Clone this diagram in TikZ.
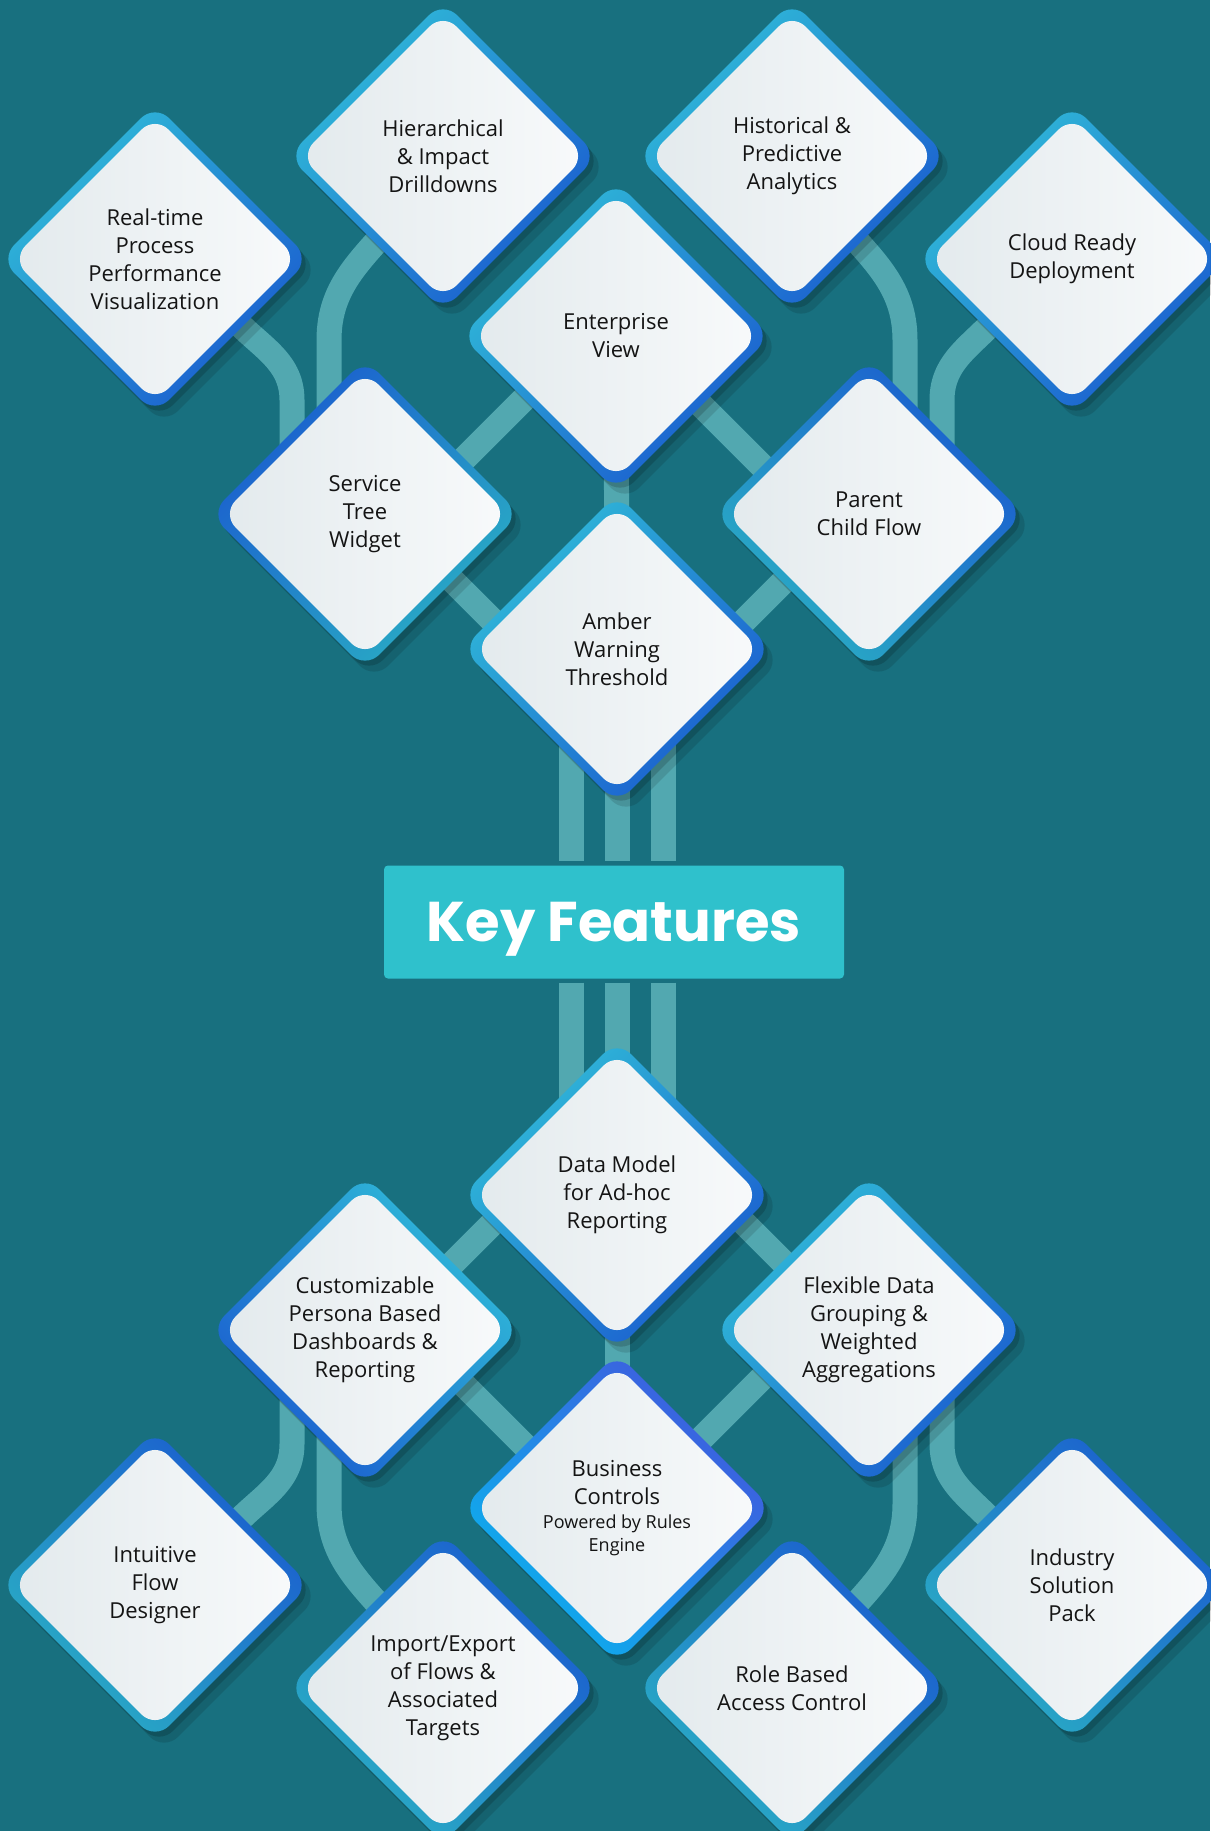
\documentclass[tikz,border=0pt]{standalone}
\usepackage{fontspec}
\setmainfont{Open Sans}
\newfontfamily\titlefont{Poppins}
\usetikzlibrary{shapes.geometric,shadows}
\pgfdeclarelayer{bg}
\pgfdeclarelayer{links}
\pgfsetlayers{bg,links,main}
\definecolor{bgteal}{HTML}{18707F}
\definecolor{linkteal}{HTML}{52A8B0}
\definecolor{boxcyan}{HTML}{2FC1CC}
\definecolor{ringcyan}{HTML}{30BCD8}
\definecolor{ringblue}{HTML}{1A5BCF}
\definecolor{ringteal}{HTML}{2AAFC4}
\definecolor{ringviolet}{HTML}{4158DD}
\definecolor{ringsky}{HTML}{0AB2EE}
\definecolor{coreL}{HTML}{E3EAED}
\definecolor{coreR}{HTML}{F8FAFB}
\definecolor{inktext}{HTML}{141414}

\newcommand\feat[4][ringA]{%
  \node[ring,#1] (#2-r) at (#3) {};
  \node[core] (#2) at (#3) {#4};}
\newcommand\smalltxt{\fontsize{18}{22}\selectfont}

\begin{document}
\begin{tikzpicture}[x=1pt,y=1pt,
    ring/.style={diamond,aspect=1,minimum size=310pt,inner sep=0pt,rounded corners=20pt,
      drop shadow={shadow xshift=9pt,shadow yshift=-11pt,opacity=.12,fill=black},
      drop shadow={shadow xshift=4pt,shadow yshift=-5pt,opacity=.16,fill=black}},
    ringA/.style={top color=ringcyan,bottom color=ringblue,shading angle=45},
    ringB/.style={top color=ringblue,bottom color=ringteal,shading angle=45},
    ringD/.style={top color=ringblue,bottom color=ringteal,shading angle=-45},
    ringE/.style={top color=ringcyan,bottom color=ringblue,shading angle=-45},
    ringC/.style={top color=ringviolet,bottom color=ringsky,shading angle=-45},
    core/.style={diamond,aspect=1,minimum size=286pt,inner sep=0pt,rounded corners=19pt,
      left color=coreL,right color=coreR,align=center,text=inktext,
      font=\fontsize{22}{28}\selectfont},
    link/.style={draw=linkteal,line width=25pt}]
  \useasboundingbox (0,0) rectangle (1210,-1831);
  \begin{pgfonlayer}{bg}
    \fill[bgteal] (0,0) rectangle (1210,-1831);
  \end{pgfonlayer}

  \feat{rt}{155,-259}{Real-time\\Process\\Performance\\Visualization}
  \feat{hier}{443,-156}{Hierarchical\\\& Impact\\Drilldowns}
  \feat{hist}{792,-156}{Historical \&\\Predictive\\Analytics}
  \feat{cloud}{1072,-259}{Cloud Ready\\Deployment}
  \feat{ent}{616,-336}{Enterprise\\View}
  \feat[ringB]{svc}{365,-514}{Service\\Tree\\Widget}
  \feat[ringD]{par}{869,-514}{Parent\\Child Flow}
  \feat{amb}{617,-649}{Amber\\Warning\\Threshold}

  \node[fill=boxcyan,rounded corners=4pt,minimum width=460pt,minimum height=113pt,text depth=0pt,
    text=white,font=\titlefont\bfseries\fontsize{56}{56}\selectfont] (kf) at (614,-922) {Key Features};

  \feat{dm}{617,-1195}{Data Model\\for Ad-hoc\\Reporting}
  \feat[ringE]{cust}{365,-1330}{Customizable\\Persona Based\\Dashboards \&\\Reporting}
  \feat{flex}{869,-1330}{Flexible Data\\Grouping \&\\Weighted\\Aggregations}
  \feat[ringC]{bc}{617,-1508}{Business\\Controls\\[-4pt]\smalltxt Powered by Rules\\[-5pt]\smalltxt Engine}
  \feat[ringD]{intu}{155,-1585}{Intuitive\\Flow\\Designer}
  \feat[ringD]{imp}{443,-1688}{Import/Export\\of Flows \&\\Associated\\Targets}
  \feat[ringD]{role}{792,-1688}{Role Based\\Access Control}
  \feat[ringD]{ind}{1072,-1585}{Industry\\Solution\\Pack}

  \begin{pgfonlayer}{links}
    \draw[link] ([shift={(75,-55)}]rt.center) to[out=-50,in=90] ([shift={(-73,114)}]svc.center) -- ([shift={(-73,44)}]svc.center);
    \draw[link] ([shift={(-43,-59)}]hier.center) to[out=-130,in=90] ([shift={(-36,174)}]svc.center) -- ([shift={(-36,44)}]svc.center);
    \draw[link] ([shift={(42,-59)}]hist.center) to[out=-50,in=90] ([shift={(36,174)}]par.center) -- ([shift={(36,44)}]par.center);
    \draw[link] ([shift={(-72,-55)}]cloud.center) to[out=-130,in=90] ([shift={(73,114)}]par.center) -- ([shift={(73,44)}]par.center);
    \draw[link] ([shift={(55,11)}]svc.center) -- ([shift={(-46,-17)}]ent.center);
    \draw[link] ([shift={(54,-38)}]ent.center) -- ([shift={(-59,0)}]par.center);
    \draw[link] ([shift={(55,-34)}]svc.center) -- ([shift={(-57,-39)}]amb.center);
    \draw[link] ([shift={(-59,-41)}]par.center) -- ([shift={(58,-41)}]amb.center);
    \draw[link] (ent.center) -- (amb.center);
    \foreach \dx in {-46,0,46} {
      \draw[link] ([xshift=\dx]amb.center) -- ([xshift=\dx+3,yshift=4]kf.north);
      \draw[link] ([xshift=\dx+3,yshift=-4]kf.south) -- ([xshift=\dx]dm.center);
    }
    \draw[link] ([shift={(55,34)}]cust.center) -- ([shift={(-57,39)}]dm.center);
    \draw[link] ([shift={(-59,41)}]flex.center) -- ([shift={(58,41)}]dm.center);
    \draw[link] ([shift={(55,-11)}]cust.center) -- ([shift={(-47,17)}]bc.center);
    \draw[link] ([shift={(-59,0)}]flex.center) -- ([shift={(53,38)}]bc.center);
    \draw[link] (dm.center) -- (bc.center);
    \draw[link] ([shift={(-73,-44)}]cust.center) -- ([shift={(-73,-114)}]cust.center) to[out=-90,in=50] ([shift={(75,55)}]intu.center);
    \draw[link] ([shift={(-36,-44)}]cust.center) -- ([shift={(-36,-174)}]cust.center) to[out=-90,in=130] ([shift={(-43,59)}]imp.center);
    \draw[link] ([shift={(36,-44)}]flex.center) -- ([shift={(36,-174)}]flex.center) to[out=-90,in=50] ([shift={(42,59)}]role.center);
    \draw[link] ([shift={(73,-44)}]flex.center) -- ([shift={(73,-114)}]flex.center) to[out=-90,in=130] ([shift={(-72,55)}]ind.center);
  \end{pgfonlayer}
\end{tikzpicture}
\end{document}
